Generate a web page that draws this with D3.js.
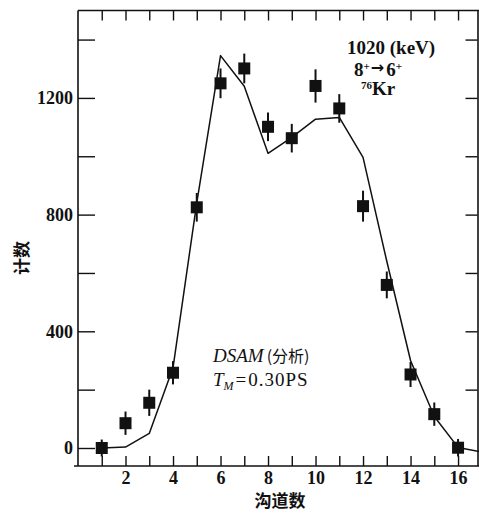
<!DOCTYPE html>
<html><head><meta charset="utf-8">
<script src="https://cdn.jsdelivr.net/npm/d3@7"></script>
<style>
body{margin:0;background:#fff;}
svg{display:block;}
</style></head>
<body>
<svg id="c" width="479" height="515"></svg>
<script>
// Data
const channels = [1,2,3,4,5,6,7,8,9,10,11,12,13,14,15,16];
const counts   = [0,85,155,258,825,1250,1301,1101,1062,1241,1164,829,559,252,116,1];
const errors   = [29,40,45,40,49,51,51,49,49,57,49,53,46,43,40,30];
const fitX = [1,2,3,4,5,6,7,8,9,10,11,12,13,14,15,16,16.9];
const fitY = [0,3,50,275,840,1345,1240,1010,1065,1127,1133,996,640,300,108,2,-12];
const xTicks = [1,2,3,4,5,6,7,8,9,10,11,12,13,14,15,16];
const xLabels = [2,4,6,8,10,12,14,16];
const yTicks = [0,200,400,600,800,1000,1200,1400];
const yLabels = [0,400,800,1200];
const yRightTicks = [200,400,600,800,1000,1200,1400];

const svg = d3.select("#c");
const x = d3.scaleLinear().domain([0,16.84]).range([78,478]);
const y = d3.scaleLinear().domain([-60,1500]).range([465.5,10.4]);

const serif = "'Liberation Serif','DejaVu Serif',serif";
const cjk = "'Noto Sans CJK SC','Noto Sans CJK TC',sans-serif";

// Axes
const axL = d3.axisLeft(y).tickValues(yTicks).tickSizeInner(-17).tickSizeOuter(0).tickPadding(5)
  .tickFormat(d => yLabels.includes(d) ? d : "");
const gL = svg.append("g").attr("transform","translate(78,0)").call(axL);

const axB = d3.axisBottom(x).tickValues(xTicks).tickSizeInner(-10).tickSizeOuter(0).tickPadding(5)
  .tickFormat(d => xLabels.includes(d) ? d : "");
const gB = svg.append("g").attr("transform","translate(0,466)").call(axB);

const axT = d3.axisTop(x).tickValues(xTicks).tickSizeInner(-10).tickSizeOuter(0).tickFormat("");
const gT = svg.append("g").attr("transform","translate(0,10.5)").call(axT);

const axR = d3.axisLeft(y).tickValues(yRightTicks).tickSizeInner(12).tickSizeOuter(0).tickFormat("");
const gR = svg.append("g").attr("transform","translate(477.5,0)").call(axR);

[gL,gB,gT,gR].forEach(g=>{
  g.selectAll("path.domain").attr("stroke","#111").attr("stroke-width",1.6);
  g.selectAll(".tick line").attr("stroke","#111").attr("stroke-width",1.4);
  g.selectAll(".tick text").attr("fill","#111").style("font-family",serif).style("font-size","18px").style("font-weight","bold");
});
gB.select("path.domain").attr("d","M74,0H479");
gL.select("path.domain").attr("d","M0,10.5V466");
gT.select("path.domain").attr("d","M78,0H479");

// Fit line
const line = d3.line().x(d=>x(d[0])).y(d=>y(d[1]));
svg.append("path").datum(fitX.map((v,i)=>[v,fitY[i]]))
  .attr("d",line).attr("fill","none").attr("stroke","#111").attr("stroke-width",1.5)
  .attr("stroke-linejoin","round");

// Error bars
svg.append("g").selectAll("line").data(channels).join("line")
  .attr("x1",d=>x(d)).attr("x2",d=>x(d))
  .attr("y1",(d,i)=>y(counts[i]+errors[i])).attr("y2",(d,i)=>y(counts[i]-errors[i]))
  .attr("stroke","#111").attr("stroke-width",2);

// Squares
const s = 12;
svg.append("g").selectAll("rect").data(channels).join("rect")
  .attr("x",d=>x(d)-s/2).attr("y",(d,i)=>y(counts[i])-s/2)
  .attr("width",s).attr("height",s).attr("fill","#111");

// Annotations
svg.append("text").attr("x",347).attr("y",54).attr("fill","#111")
  .style("font-family",serif).style("font-size","19px").style("font-weight","bold").text("1020 (keV)");
const t2 = svg.append("text").attr("x",354).attr("y",76).attr("fill","#111")
  .style("font-family",serif).style("font-size","19px").style("font-weight","bold");
t2.append("tspan").text("8");
t2.append("tspan").attr("dy",-6).style("font-size","11px").text("+");
t2.append("tspan").attr("dy",3).attr("dx",1).style("font-size","16px").style("font-family","'DejaVu Sans',sans-serif").text("→");
t2.append("tspan").attr("dy",3).attr("dx",2).text("6");
t2.append("tspan").attr("dy",-6).style("font-size","11px").text("+");
const t3 = svg.append("text").attr("x",361).attr("y",95).attr("fill","#111")
  .style("font-family",serif).style("font-size","19px").style("font-weight","bold");
t3.append("tspan").attr("dy",-6).style("font-size","11px").text("76");
t3.append("tspan").attr("dy",6).text("Kr");

const t4 = svg.append("text").attr("x",213).attr("y",362).attr("fill","#111")
  .style("font-family",serif).style("font-size","19px");
t4.append("tspan").style("font-style","italic").text("DSAM");
t4.append("tspan").style("font-family",cjk).style("font-size","16px").attr("dx",3).text("(分析)");

const t5 = svg.append("text").attr("x",213).attr("y",386).attr("fill","#111")
  .style("font-family",serif).style("font-size","19px");
t5.append("tspan").style("font-style","italic").text("T");
t5.append("tspan").style("font-style","italic").style("font-size","12px").attr("dy",4).text("M");
t5.append("tspan").attr("dy",-4).attr("dx",2).text("=");
t5.append("tspan").attr("dx",2).style("letter-spacing","1px").text("0.30PS");

// Axis titles
svg.append("text").attr("x",280).attr("y",507).attr("text-anchor","middle").attr("fill","#111")
  .style("font-family",cjk).style("font-size","17px").style("font-weight","bold").text("沟道数");
svg.append("text").attr("transform","translate(28,258) rotate(-90)").attr("text-anchor","middle").attr("fill","#111")
  .style("font-family",cjk).style("font-size","17px").style("font-weight","bold").text("计数");
</script>
</body></html>
